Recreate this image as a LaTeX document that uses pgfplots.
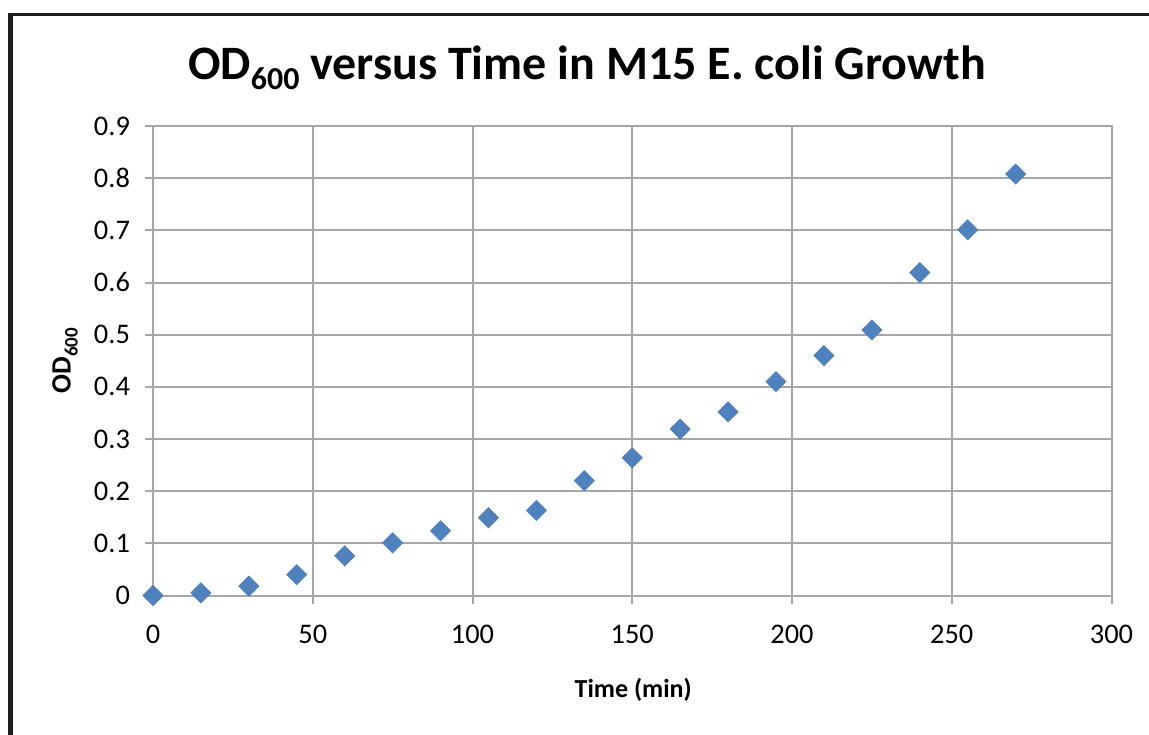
\documentclass[border=0pt]{standalone}
\usepackage{pgfplots}
\pgfplotsset{compat=1.18}
\usepackage{fontspec}
\setmainfont{Carlito}
\definecolor{gridgray}{RGB}{166,166,168}
\definecolor{markblue}{RGB}{79,129,189}
\definecolor{framec}{RGB}{30,30,30}
\begin{document}
\begin{tikzpicture}
\useasboundingbox (0,0) rectangle (574.5pt,367pt);
\draw[framec, line width=2.5pt] (5pt,-5pt) -- (5pt,359.75pt);
\draw[framec, line width=1.5pt] (3.75pt,359.75pt) -- (580pt,359.75pt);
\begin{axis}[
  at={(76.5pt,69.25pt)}, anchor=south west,
  scale only axis, width=479.25pt, height=234.75pt,
  xmin=0, xmax=300, ymin=0, ymax=0.9,
  xtick={0,50,100,150,200,250,300},
  ytick={0,0.1,0.2,0.3,0.4,0.5,0.6,0.7,0.8,0.9},
  yticklabels={0,0.1,0.2,0.3,0.4,0.5,0.6,0.7,0.8,0.9},
  xtick pos=bottom, ytick pos=left,
  tick align=outside, major tick length=4pt,
  grid=major, grid style={gridgray, line width=1pt},
  axis line style={gridgray, line width=1pt},
  tick style={gridgray, line width=1pt},
  /pgf/number format/assume math mode=true,
  ticklabel style={font=\fontsize{14.2}{17}\selectfont, text=black},
  xticklabel style={yshift=-7pt},
  yticklabel style={xshift=-4pt},
  xlabel={\textbf{Time (min)}},
  ylabel={\textbf{OD\raisebox{-3.5pt}{\fontsize{9.5}{10}\selectfont 600}}},
  xlabel style={at={(axis description cs:0.501,-0.2)}, anchor=center, font=\fontsize{13}{15}\selectfont},
  ylabel style={at={(axis description cs:-0.0919,0.5)}, anchor=center, rotate=0, font=\fontsize{14}{16}\selectfont},
]
\addplot[only marks, mark=square*, mark size=3.54pt,
  mark options={rotate=45, fill=markblue, draw=markblue}] coordinates {
(0,0) (15,0.005) (30,0.018) (45,0.040) (60,0.076) (75,0.101) (90,0.124)
(105,0.149) (120,0.163) (135,0.220) (150,0.264) (165,0.319) (180,0.352)
(195,0.410) (210,0.460) (225,0.509) (240,0.619) (255,0.701) (270,0.808)
};
\end{axis}
\node[anchor=base, font=\fontsize{24}{28}\selectfont\bfseries, inner sep=0pt] at (293.5pt,327pt)
  {OD\raisebox{-5pt}{\fontsize{16}{16}\selectfont 600} versus Time in M15 E. coli Growth};
\end{tikzpicture}
\end{document}
